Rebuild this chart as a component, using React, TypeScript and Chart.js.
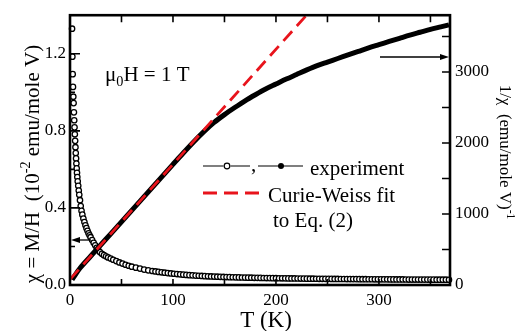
import React, { useEffect, useRef } from "react";
import { Chart, registerables } from "chart.js";

Chart.register(...registerables);

// ---- data ----
// susceptibility chi (10^-2 emu/mole V), open circles, left axis
const chiT = [
  2.0, 2.3, 2.6, 2.9, 3.2, 3.5, 3.8, 4.1, 4.4, 4.7, 5.0, 5.3, 5.6, 5.9, 6.2, 6.5, 6.8, 7.1, 7.5, 8.0,
  8.5, 9.0, 9.7, 10.4, 11.2, 12.0, 13.0, 14.0, 15.0, 16.0, 17.0, 18.0, 19.0, 20.0, 21.5, 23.0, 24.5, 26.0,
  27.5, 29.0, 31.0, 33.0, 35.0, 37.0, 39.5, 42.0, 45.0, 48.0, 51.0, 54.0, 57.0, 60.0, 64.0, 68.0, 72.0, 76.0,
  80, 83, 86, 89, 92, 95, 98, 101, 104, 107, 110, 113, 116, 119, 122, 125, 128, 131, 134, 137,
  140, 143, 146, 149, 152, 155, 158, 161, 164, 167, 170, 173, 176, 179, 182, 185, 188, 191, 194, 197,
  200, 203, 206, 209, 212, 215, 218, 221, 224, 227, 230, 233, 236, 239, 242, 245, 248, 251, 254, 257,
  260, 263, 266, 269, 272, 275, 278, 281, 284, 287, 290, 293, 296, 299, 302, 305, 308, 311, 314, 317,
  320, 323, 326, 329, 332, 335, 338, 341, 344, 347, 350, 353, 356, 359, 362, 365, 368,
];
const chiValues = [
  1.330, 1.185, 1.094, 1.028, 0.977, 0.944, 0.896, 0.855, 0.818, 0.782, 0.748, 0.715, 0.685, 0.657, 0.630, 0.605, 0.582, 0.560, 0.538, 0.515,
  0.490, 0.468, 0.440, 0.410, 0.385, 0.365, 0.345, 0.327, 0.310, 0.295, 0.281, 0.268, 0.258, 0.248, 0.233, 0.219, 0.206, 0.193,
  0.181, 0.171, 0.162, 0.155, 0.149, 0.143, 0.137, 0.131, 0.124, 0.117, 0.111, 0.105, 0.100, 0.095, 0.090, 0.085, 0.080, 0.076,
  0.0727, 0.0703, 0.0680, 0.0658, 0.0638, 0.0618, 0.0600, 0.0583, 0.0567, 0.0552, 0.0538, 0.0524, 0.0512, 0.0500, 0.0489, 0.0479, 0.0469, 0.0460, 0.0452, 0.0444,
  0.0437, 0.0430, 0.0424, 0.0419, 0.0413, 0.0408, 0.0403, 0.0398, 0.0394, 0.0390, 0.0385, 0.0382, 0.0378, 0.0374, 0.0371, 0.0368, 0.0364, 0.0361, 0.0359, 0.0356,
  0.0353, 0.0351, 0.0348, 0.0346, 0.0343, 0.0341, 0.0339, 0.0336, 0.0334, 0.0332, 0.0330, 0.0328, 0.0326, 0.0324, 0.0323, 0.0321, 0.0319, 0.0318, 0.0316, 0.0315,
  0.0313, 0.0312, 0.0311, 0.0309, 0.0308, 0.0306, 0.0305, 0.0303, 0.0302, 0.0301, 0.0299, 0.0298, 0.0297, 0.0296, 0.0295, 0.0294, 0.0292, 0.0291, 0.0290, 0.0289,
  0.0288, 0.0287, 0.0286, 0.0284, 0.0283, 0.0282, 0.0282, 0.0281, 0.0280, 0.0279, 0.0278, 0.0277, 0.0276, 0.0275, 0.0275, 0.0274, 0.0273,
];

// inverse susceptibility 1/chi (emu/mole V)^-1, filled symbols, right axis
const invT = [
  2, 10, 20, 30, 40, 50, 60, 70, 80, 90, 100, 110, 120, 130, 140, 150, 160, 170, 180, 190,
  200, 210, 220, 230, 240, 250, 260, 270, 280, 290, 300, 310, 320, 330, 340, 350, 360, 368,
];
const invValues = [
  75, 242, 405, 567, 728, 890, 1052, 1213, 1375, 1538, 1700, 1860, 2015, 2160, 2290, 2400, 2500, 2595, 2680, 2760,
  2830, 2900, 2965, 3030, 3090, 3140, 3190, 3240, 3290, 3340, 3385, 3430, 3475, 3520, 3560, 3600, 3635, 3663,
];

// Curie-Weiss fit (right axis)
const cwT = [0, 229];
const cwValues = [80, 3790];

// tick labels
const xTickValues = [0, 100, 200, 300];
const leftTickValues = [0, 0.4, 0.8, 1.2];
const rightTickValues = [0, 1000, 2000, 3000];

const SERIF = "'Liberation Serif', 'Times New Roman', Times, serif";

type Part = { t: string; s?: "sup" | "sub" };

function drawRich(ctx: CanvasRenderingContext2D, parts: Part[], x: number, y: number, size: number, align: "left" | "center") {
  const small = size * 0.68;
  const fN = `${size}px ${SERIF}`;
  const fS = `${small}px ${SERIF}`;
  let w = 0;
  const ws = parts.map((p) => {
    ctx.font = p.s ? fS : fN;
    const m = ctx.measureText(p.t).width;
    w += m;
    return m;
  });
  let cx = align === "center" ? x - w / 2 : x;
  ctx.textAlign = "left";
  ctx.textBaseline = "alphabetic";
  parts.forEach((p, i) => {
    ctx.font = p.s ? fS : fN;
    const dy = p.s === "sup" ? -size * 0.42 : p.s === "sub" ? size * 0.25 : 0;
    ctx.fillText(p.t, cx, y + dy);
    cx += ws[i];
  });
}

function arrow(ctx: CanvasRenderingContext2D, x1: number, y: number, x2: number) {
  const dir = Math.sign(x2 - x1);
  ctx.beginPath();
  ctx.moveTo(x1, y);
  ctx.lineTo(x2 - dir * 6, y);
  ctx.lineWidth = 1.3;
  ctx.stroke();
  ctx.beginPath();
  ctx.moveTo(x2, y);
  ctx.lineTo(x2 - dir * 9, y - 3);
  ctx.lineTo(x2 - dir * 9, y + 3);
  ctx.closePath();
  ctx.fill();
}

const overlay = {
  id: "overlay",
  afterDraw(chart: any) {
    const ctx: CanvasRenderingContext2D = chart.ctx;
    const { left, right, top, bottom } = chart.chartArea;
    const xs = chart.scales.x;
    const yl = chart.scales.yL;
    const yr = chart.scales.yR;
    ctx.save();
    ctx.strokeStyle = "#000";
    ctx.fillStyle = "#000";

    // inward ticks
    ctx.lineWidth = 1.6;
    ctx.beginPath();
    for (let t = 50; t < xs.max; t += 50) {
      const px = xs.getPixelForValue(t);
      ctx.moveTo(px, bottom);
      ctx.lineTo(px, bottom - 6);
      ctx.moveTo(px, top);
      ctx.lineTo(px, top + 7);
    }
    for (let i = 1; i <= 6; i++) {
      const v = i * 0.2;
      const py = yl.getPixelForValue(v);
      const len = i % 2 === 0 ? 10 : 5;
      ctx.moveTo(left, py);
      ctx.lineTo(left + len, py);
    }
    for (let v = 500; v < yr.max; v += 500) {
      const py = yr.getPixelForValue(v);
      ctx.moveTo(right, py);
      ctx.lineTo(right - 8, py);
    }
    ctx.stroke();

    // frame
    ctx.lineWidth = 2.6;
    ctx.strokeRect(left, top, right - left, bottom - top);

    // axis titles
    ctx.save();
    ctx.translate(39, 164);
    ctx.rotate(-Math.PI / 2);
    drawRich(ctx, [{ t: "\u03c7 = M/H  (10" }, { t: "-2", s: "sup" }, { t: " emu/mole V)" }], 0, 0, 21, "center");
    ctx.restore();

    ctx.save();
    ctx.translate(500, 152);
    ctx.rotate(Math.PI / 2);
    drawRich(ctx, [{ t: "1/\u03c7  (emu/mole V)" }, { t: "-1", s: "sup" }], 0, 0, 17, "center");
    ctx.restore();

    drawRich(ctx, [{ t: "T (K)" }], 266, 327, 23, "center");

    // field annotation
    drawRich(ctx, [{ t: "\u03bc" }, { t: "0", s: "sub" }, { t: "H = 1 T" }], 105, 81, 21, "left");

    // legend
    ctx.lineWidth = 1.2;
    ctx.beginPath();
    ctx.moveTo(203, 166); ctx.lineTo(223.5, 166);
    ctx.moveTo(230.5, 166); ctx.lineTo(250, 166);
    ctx.moveTo(258, 166); ctx.lineTo(303, 166);
    ctx.stroke();
    ctx.beginPath();
    ctx.arc(227, 166, 2.8, 0, Math.PI * 2);
    ctx.fillStyle = "#fff";
    ctx.fill();
    ctx.stroke();
    ctx.fillStyle = "#000";
    ctx.beginPath();
    ctx.arc(281, 166, 3, 0, Math.PI * 2);
    ctx.fill();
    drawRich(ctx, [{ t: "," }], 251, 171, 21, "left");
    drawRich(ctx, [{ t: "experiment" }], 310, 175, 21, "left");

    ctx.strokeStyle = "#e8141c";
    ctx.lineWidth = 2.8;
    ctx.beginPath();
    ctx.moveTo(203, 193); ctx.lineTo(217, 193);
    ctx.moveTo(224, 193); ctx.lineTo(238, 193);
    ctx.moveTo(245, 193); ctx.lineTo(259, 193);
    ctx.stroke();
    ctx.strokeStyle = "#000";
    drawRich(ctx, [{ t: "Curie-Weiss fit" }], 268, 202, 21, "left");
    drawRich(ctx, [{ t: "to Eq. (2)" }], 273, 227, 21, "left");

    // arrows
    arrow(ctx, 380, 57, right - 1);
    arrow(ctx, 91, 240, left + 1);

    ctx.restore();
  },
};

export default function App() {
  const ref = useRef<HTMLCanvasElement | null>(null);

  useEffect(() => {
    if (!ref.current) return;
    const tickFont = { family: SERIF, size: 17 };
    const noGrid = { display: false, drawTicks: false, tickLength: 0 };
    const chart = new Chart(ref.current, {
      type: "scatter",
      data: {
        datasets: [
          {
            label: "Curie-Weiss fit",
            data: cwT.map((t, i) => ({ x: t, y: cwValues[i] })),
            yAxisID: "yR",
            showLine: true,
            borderColor: "#e8141c",
            borderWidth: 2.8,
            borderDash: [13, 7],
            pointRadius: 0,
            order: 1,
          },
          {
            label: "1/chi",
            data: invT.map((t, i) => ({ x: t, y: invValues[i] })),
            yAxisID: "yR",
            showLine: true,
            borderColor: "#000",
            borderWidth: 5,
            pointRadius: 0,
            tension: 0.3,
            order: 2,
          },
          {
            label: "chi",
            data: chiT.map((t, i) => ({ x: t, y: chiValues[i] })),
            yAxisID: "yL",
            showLine: false,
            pointRadius: 2.7,
            pointBorderWidth: 1.3,
            pointBackgroundColor: "#fff",
            pointBorderColor: "#000",
            clip: 6,
            order: 3,
          },
        ],
      },
      options: {
        animation: false,
        responsive: false,
        events: [],
        layout: { padding: { top: 14, left: 0, right: 0, bottom: 0 } },
        plugins: { legend: { display: false }, tooltip: { enabled: false } },
        scales: {
          x: {
            type: "linear",
            position: "bottom",
            min: 0,
            max: 369,
            afterBuildTicks: (s: any) => {
              s.ticks = xTickValues.map((v) => ({ value: v }));
            },
            afterFit: (s: any) => {
              s.height = 46;
            },
            ticks: { font: tickFont, color: "#000", padding: 5, maxRotation: 0, callback: (v: any) => String(v) },
            grid: noGrid,
            border: { display: false },
          },
          yL: {
            type: "linear",
            position: "left",
            min: 0,
            max: 1.4,
            afterBuildTicks: (s: any) => {
              s.ticks = leftTickValues.map((v) => ({ value: v }));
            },
            afterFit: (s: any) => {
              s.width = 70;
            },
            ticks: { font: tickFont, color: "#000", padding: 4, callback: (v: any) => Number(v).toFixed(1) },
            grid: noGrid,
            border: { display: false },
          },
          yR: {
            type: "linear",
            position: "right",
            min: 0,
            max: 3800,
            afterBuildTicks: (s: any) => {
              s.ticks = rightTickValues.map((v) => ({ value: v }));
            },
            afterFit: (s: any) => {
              s.width = 69;
            },
            ticks: { font: tickFont, color: "#000", padding: 5, callback: (v: any) => String(v) },
            grid: noGrid,
            border: { display: false },
          },
        },
      },
      plugins: [overlay],
    });
    return () => chart.destroy();
  }, []);

  return (
    <div style={{ position: "fixed", left: 0, top: 0, width: 519, height: 331, background: "#fff" }}>
      <canvas ref={ref} width={519} height={331} style={{ display: "block", width: 519, height: 331 }} />
    </div>
  );
}
